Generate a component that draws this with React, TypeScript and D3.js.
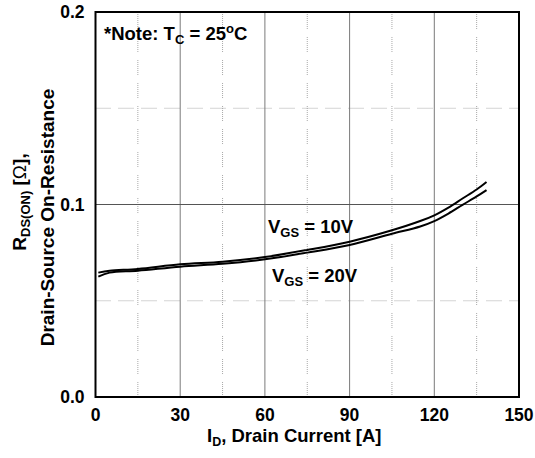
import React from 'react';
import * as d3 from 'd3';

// I_D [A] sample points
const drainCurrent = [1, 5, 15, 30, 45, 60, 75, 90, 105, 115, 120, 125, 130, 135, 138.5];
// R_DS(ON) [ohm] at V_GS = 10V (upper curve)
const rdsVgs10 = [0.0646, 0.0656, 0.0665, 0.0689, 0.0703, 0.0727, 0.0764, 0.0807, 0.0866, 0.0914, 0.0944, 0.0984, 0.1031, 0.1078, 0.1117];
// R_DS(ON) [ohm] at V_GS = 20V (lower curve)
const rdsVgs20 = [0.0625, 0.0646, 0.0656, 0.0677, 0.0692, 0.0715, 0.075, 0.079, 0.0848, 0.0886, 0.0914, 0.0953, 0.0998, 0.1042, 0.1075];

const xTicks = [0, 30, 60, 90, 120, 150];
const xMinor = [15, 45, 75, 105, 135];
const yTicks = [0, 0.1, 0.2];
const yMinor = [0.05, 0.15];

const W = 535;
const H = 458;
const margin = { top: 12, right: 16, bottom: 61, left: 95.5 };
const FONT = '"Liberation Sans", Arial, sans-serif';
// dotted dashes, like the scanned datasheet grid
const MINOR_DASH = '1,1,1,1,1,1,1,1,1,1,1,1,1,1,1,8';

export default function App() {
    const x = d3.scaleLinear().domain([0, 150]).range([margin.left, W - margin.right]);
    const y = d3.scaleLinear().domain([0, 0.2]).range([H - margin.bottom, margin.top]);

    const line = d3.line<number>()
        .x((_, i) => x(drainCurrent[i]))
        .y(d => y(d))
        .curve(d3.curveCatmullRom.alpha(0.5));

    const [x0, x1] = x.range();
    const [y0, y1] = y.range();

    return (
        <svg width={W} height={H} style={{ position: 'absolute', left: 0, top: 0, background: '#fff' }}
            fontFamily={FONT} fontWeight="bold">
            {/* minor grid */}
            {xMinor.map(v => (
                <line key={'xm' + v} x1={x(v)} x2={x(v)} y1={y0} y2={y1}
                    stroke="#a8a8a8" strokeWidth={1} strokeDasharray={MINOR_DASH} />
            ))}
            {yMinor.map(v => (
                <line key={'ym' + v} x1={x0} x2={x1} y1={y(v)} y2={y(v)}
                    stroke="#a8a8a8" strokeWidth={1} strokeDasharray={MINOR_DASH} />
            ))}
            {/* major grid */}
            {xTicks.slice(1, -1).map(v => (
                <line key={'xg' + v} x1={x(v)} x2={x(v)} y1={y0} y2={y1} stroke="#7a7a7a" strokeWidth={1} />
            ))}
            {yTicks.slice(1, -1).map(v => (
                <line key={'yg' + v} x1={x0} x2={x1} y1={y(v)} y2={y(v)} stroke="#555" strokeWidth={1} />
            ))}

            {/* curves */}
            <path d={line(rdsVgs10) || ''} fill="none" stroke="#000" strokeWidth={2} />
            <path d={line(rdsVgs20) || ''} fill="none" stroke="#000" strokeWidth={2} />

            {/* frame */}
            <rect x={x0} y={y1} width={x1 - x0} height={y0 - y1} fill="none" stroke="#000" strokeWidth={2} />

            {/* tick labels */}
            {xTicks.map(v => (
                <text key={'xt' + v} x={x(v)} y={y0 + 24} textAnchor="middle" fontSize={17.5}>{v}</text>
            ))}
            {yTicks.map(v => (
                <text key={'yt' + v} x={x0 - 11} y={y(v)} dy="0.35em" textAnchor="end" fontSize={17.5}>
                    {d3.format('.1f')(v)}
                </text>
            ))}

            {/* x axis title */}
            <text x={207} y={441.5} fontSize={18.5}>
                I<tspan fontSize={12.5} dy={4}>D</tspan><tspan dy={-4}>, Drain Current [A]</tspan>
            </text>

            {/* y axis title */}
            <text transform="translate(26,202) rotate(-90)" textAnchor="middle" fontSize={19}>
                R<tspan fontSize={13} dy={4}>DS(ON)</tspan>
                <tspan dy={-4}> [</tspan><tspan fontWeight="normal">Ω</tspan><tspan>],</tspan>
            </text>
            <text transform="translate(54,217.5) rotate(-90)" textAnchor="middle" fontSize={19}>
                Drain-Source On-Resistance
            </text>

            {/* note */}
            <text x={104} y={40} fontSize={18.5}>
                *Note: T<tspan fontSize={13} dy={4}>C</tspan><tspan dy={-4}> = 25</tspan>
                <tspan fontSize={13} dy={-7}>o</tspan><tspan dy={7}>C</tspan>
            </text>

            {/* curve labels */}
            <text x={268} y={232.5} fontSize={18.5}>
                V<tspan fontSize={13} dy={4}>GS</tspan><tspan dy={-4}> = 10V</tspan>
            </text>
            <text x={272} y={281.5} fontSize={18.5}>
                V<tspan fontSize={13} dy={4}>GS</tspan><tspan dy={-4}> = 20V</tspan>
            </text>
        </svg>
    );
}
